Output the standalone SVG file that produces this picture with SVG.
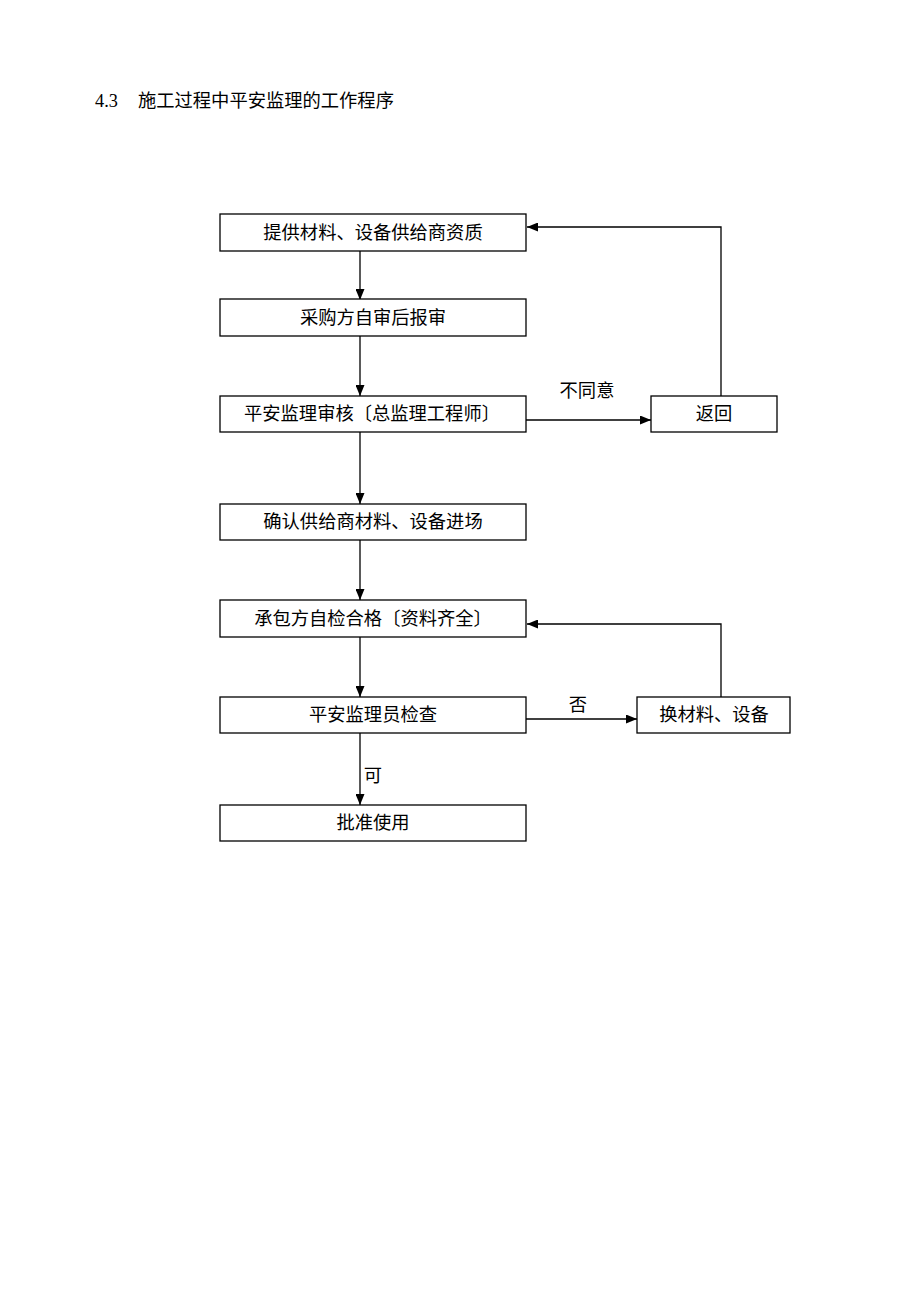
<svg xmlns="http://www.w3.org/2000/svg" width="920" height="1302" viewBox="0 0 920 1302">
<style>
.box{fill:#fff;stroke:#000;stroke-width:1.3}
.t{font-family:"Liberation Serif","Noto Sans CJK SC",serif;font-size:18.3px;fill:#000;text-anchor:middle;dominant-baseline:central}
.c{fill:none;stroke:#000;stroke-width:1.3}
</style>
<defs>
<marker id="ah" markerWidth="11" markerHeight="9" refX="11" refY="4.5" orient="auto" markerUnits="userSpaceOnUse">
<path d="M0,0 L11,4.5 L0,9 Z" fill="#000"/>
</marker>
</defs>
<rect width="920" height="1302" fill="#fff"/>
<text x="95" y="101" class="t" style="text-anchor:start">4.3<tspan x="138">施工过程中平安监理的工作程序</tspan></text>

<g id="connectors">
<line class="c" x1="360" y1="251" x2="360" y2="300" marker-end="url(#ah)"/>
<line class="c" x1="360" y1="336" x2="360" y2="396" marker-end="url(#ah)"/>
<line class="c" x1="360" y1="432" x2="360" y2="504" marker-end="url(#ah)"/>
<line class="c" x1="360" y1="540" x2="360" y2="600" marker-end="url(#ah)"/>
<line class="c" x1="360" y1="637" x2="360" y2="697" marker-end="url(#ah)"/>
<line class="c" x1="360" y1="733" x2="360" y2="805" marker-end="url(#ah)"/>
<line class="c" x1="526" y1="420" x2="651" y2="420" marker-end="url(#ah)"/>
<polyline class="c" points="721,396 721,227 527,227" marker-end="url(#ah)"/>
<line class="c" x1="526" y1="719" x2="637" y2="719" marker-end="url(#ah)"/>
<polyline class="c" points="721,697 721,624 527,624" marker-end="url(#ah)"/>
<text class="t" x="587" y="391">不同意</text>
<text class="t" x="578" y="705">否</text>
<text class="t" x="373" y="776">可</text>
</g>

<g id="n1"><rect class="box" x="220" y="214" width="306" height="37"/><text class="t" x="373" y="233">提供材料、设备供给商资质</text></g>
<g id="n2"><rect class="box" x="220" y="299" width="306" height="37"/><text class="t" x="373" y="318">采购方自审后报审</text></g>
<g id="n3"><rect class="box" x="220" y="396" width="306" height="36"/><text class="t" x="372" y="414">平安监理审核〔总监理工程师〕</text></g>
<g id="n4"><rect class="box" x="220" y="504" width="306" height="36"/><text class="t" x="373" y="522">确认供给商材料、设备进场</text></g>
<g id="n5"><rect class="box" x="220" y="600" width="306" height="37"/><text class="t" x="373" y="619">承包方自检合格〔资料齐全〕</text></g>
<g id="n6"><rect class="box" x="220" y="697" width="306" height="36"/><text class="t" x="373" y="715">平安监理员检查</text></g>
<g id="n7"><rect class="box" x="220" y="805" width="306" height="36"/><text class="t" x="373" y="823">批准使用</text></g>
<g id="n8"><rect class="box" x="651" y="396" width="126" height="36"/><text class="t" x="714" y="414">返回</text></g>
<g id="n9"><rect class="box" x="637" y="697" width="153" height="36"/><text class="t" x="714" y="715">换材料、设备</text></g>
</svg>
